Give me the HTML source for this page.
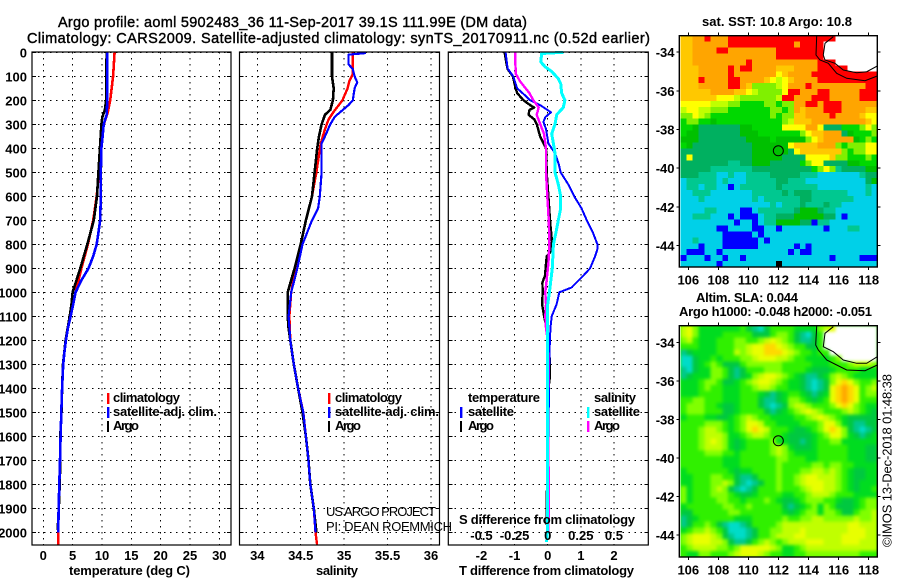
<!DOCTYPE html>
<html lang="en">
<head>
<meta charset="utf-8">
<title>Argo profile aoml 5902483_36</title>
<style>
html,body{margin:0;padding:0;background:#fff;}
#chart{display:block;width:900px;height:580px;}
text{font-family:"Liberation Sans",sans-serif;fill:#000;}
.b{font-size:13px;font-weight:700;}
.t{font-size:14.5px;font-weight:400;stroke:#000;stroke-width:.4px;}
.n{font-size:13px;font-weight:400;}
</style>
</head>
<body>
<svg id="chart" xmlns="http://www.w3.org/2000/svg" width="900" height="580" viewBox="0 0 900 580">
<defs>
<filter id="slaSmooth" x="-5%" y="-5%" width="110%" height="110%" color-interpolation-filters="sRGB"><feGaussianBlur stdDeviation="1.7"/></filter>
<clipPath id="slaClip"><rect x="680.5" y="325.7" width="196.8" height="231.3"/></clipPath>
</defs>
<rect x="0" y="0" width="900" height="580" fill="#fff"/>
<text class="t" x="58" y="27" textLength="469" lengthAdjust="spacing">Argo profile: aoml 5902483_36 11-Sep-2017 39.1S 111.99E (DM data)</text>
<text class="t" x="27" y="43" textLength="623" lengthAdjust="spacing">Climatology: CARS2009. Satellite-adjusted climatology: synTS_20170911.nc (0.52d earlier)</text>
<g id="p1"></g>
<g id="p2"></g>
<g id="p3"></g>
<g id="m1"></g>
<g id="m2"></g>

<text class="b" x="69" y="575" textLength="121" lengthAdjust="spacing">temperature (deg C)</text>
<text class="b" x="316" y="575" textLength="42" lengthAdjust="spacing">salinity</text>
<text class="b" x="459" y="575" textLength="175" lengthAdjust="spacing">T difference from climatology</text>
<text class="b" x="459" y="524" textLength="176" lengthAdjust="spacing">S difference from climatology</text>

<g>
<rect x="107" y="393" width="2.4" height="11" fill="#f00"/>
<rect x="107" y="407" width="2.4" height="11" fill="#00f"/>
<rect x="107" y="421" width="2" height="11" fill="#000"/>
<text class="b" x="113" y="402" textLength="67" lengthAdjust="spacing">climatology</text>
<text class="b" x="113" y="416" textLength="104" lengthAdjust="spacing">satellite-adj. clim.</text>
<text class="b" x="113" y="430" textLength="26" lengthAdjust="spacing">Argo</text>
</g>
<g>
<rect x="328" y="393" width="2.4" height="11" fill="#f00"/>
<rect x="328" y="407" width="2.4" height="11" fill="#00f"/>
<rect x="328" y="421" width="2" height="11" fill="#000"/>
<text class="b" x="335" y="402" textLength="67" lengthAdjust="spacing">climatology</text>
<text class="b" x="335" y="416" textLength="104" lengthAdjust="spacing">satellite-adj. clim.</text>
<text class="b" x="335" y="430" textLength="26" lengthAdjust="spacing">Argo</text>
</g>
<text class="n" x="326" y="516" textLength="110" lengthAdjust="spacing">US ARGO PROJECT</text>
<text class="n" x="326" y="531" textLength="126" lengthAdjust="spacing">PI: DEAN ROEMMICH</text>

<g>
<text class="b" x="468" y="402" textLength="72" lengthAdjust="spacing">temperature</text>
<text class="b" x="594" y="402" textLength="42" lengthAdjust="spacing">salinity</text>
<rect x="460" y="407" width="2.4" height="11" fill="#00f"/>
<rect x="460" y="421" width="2" height="11" fill="#000"/>
<rect x="587" y="407" width="2.4" height="11" fill="#0ff"/>
<rect x="587" y="421" width="2.4" height="11" fill="#f0f"/>
<text class="b" x="468" y="416" textLength="46" lengthAdjust="spacing">satellite</text>
<text class="b" x="468" y="430" textLength="26" lengthAdjust="spacing">Argo</text>
<text class="b" x="594" y="416" textLength="46" lengthAdjust="spacing">satellite</text>
<text class="b" x="594" y="430" textLength="26" lengthAdjust="spacing">Argo</text>
</g>

<text class="b" x="702" y="26" textLength="150" lengthAdjust="spacing">sat. SST: 10.8 Argo: 10.8</text>
<text class="b" x="696" y="302" textLength="102" lengthAdjust="spacing">Altim. SLA: 0.044</text>
<text class="b" x="679" y="316" textLength="193" lengthAdjust="spacing">Argo h1000: -0.048 h2000: -0.051</text>
<text class="n" transform="translate(891.5,547) rotate(-90)" x="0" y="0" textLength="173" lengthAdjust="spacing">©IMOS 13-Dec-2018 01:48:38</text>
</svg>

<script>
// ---------- profile data ----------
const depthTicks = [0,100,200,300,400,500,600,700,800,900,1000,1100,1200,1300,1400,1500,1600,1700,1800,1900,2000];
const tempTicks = [0,5,10,15,20,25,30];
const salTicks = [34,34.5,35,35.5,36];
const salTickLabels = ['34','34.5','35','35.5','36'];
const tDiffTicks = [-2,-1,0,1,2];
const sDiffTicks = [-0.5,-0.25,0,0.25,0.5];
const sDiffTickLabels = ['-0.5','-0.25','0','0.25','0.5'];

const tempClimDepth = [0,100,200,250,300,400,500,600,700,800,900,1000,1050,1100,1150,1200,1250,1300,1400,1500,1600,1700,1800,1900,2000,2055];
const tempClimVal = [12.16,11.9,11.4,11,10.3,9.9,9.5,9.1,8.5,7.6,6.5,5.5,5.1,4.65,4.2,3.85,3.6,3.4,3.2,3.07,2.95,2.85,2.73,2.6,2.55,2.55];
const tempSatDepth = [0,100,200,260,300,350,400,500,600,700,800,850,900,950,1000,1050,1100,1150,1200,1250,1300,1400,1500,1600,1700,1800,1900,2000];
const tempSatVal = [10.9,10.9,10.9,10.8,10.3,10.1,9.9,9.8,9.8,9.7,9.1,8.5,7.7,6.5,5.5,5.1,4.65,4.2,3.85,3.6,3.4,3.2,3.07,2.95,2.85,2.73,2.6,2.55];
const tempArgoDepth = [0,110,200,240,270,300,400,500,600,700,800,900,1000,1050,1100,1200,1300,1400,1500,1600,1700,1800,1900,1990];
const tempArgoVal = [10.8,10.7,10.7,10.5,10.05,9.9,9.65,9.4,9.15,8.6,7.5,6.3,5.0,4.8,4.5,3.8,3.35,3.2,3.1,2.9,2.9,2.8,2.65,2.45];

const salClimDepth = [0,50,90,120,150,200,250,280,320,380,500,600,700,800,900,1000,1100,1200,1300,1400,1500,1600,1700,1800,1900,2000,2055];
const salClimVal = [35.1,35.1,35.1,35.06,35.04,34.98,34.875,34.82,34.78,34.73,34.68,34.63,34.56,34.5,34.44,34.39,34.37,34.38,34.42,34.47,34.53,34.56,34.59,34.61,34.65,34.67,34.69];
const salSatDepth = [3,10,50,70,100,125,150,200,220,260,270,300,350,380,400,500,600,650,700,800,900,1000,1100,1200,1300,1400,1500,1600,1700,1800,1900,2000];
const salSatVal = [35.25,35.05,35.05,35.1,35.12,35.15,35.12,35.1,35.05,34.92,34.89,34.84,34.78,34.74,34.74,34.74,34.72,34.7,34.63,34.52,34.46,34.39,34.36,34.38,34.42,34.47,34.53,34.56,34.59,34.61,34.65,34.67];
const salArgoDepth = [0,100,150,200,240,260,300,350,400,500,600,700,800,900,1000,1100,1150,1200,1300,1400,1500,1600,1700,1800,1900,2000];
const salArgoVal = [34.86,34.86,34.88,34.87,34.84,34.78,34.74,34.71,34.69,34.66,34.63,34.56,34.5,34.43,34.35,34.35,34.36,34.38,34.42,34.47,34.52,34.56,34.59,34.61,34.65,34.68];

const dTempSatDepth = [0,67,100,150,180,200,220,250,270,290,320,380,420,470,500,550,600,650,700,750,800,820,850,900,930,980,1000,1050,1100,1150,1200,1250,1500,2000];
const dTempSatVal = [-1.27,-1.21,-1.04,-0.92,-0.68,-0.53,-0.23,0.1,-0.07,-0.13,-0.05,0.02,0.22,0.34,0.39,0.62,0.8,1.02,1.18,1.36,1.5,1.5,1.43,1.28,1.08,0.72,0.35,0.27,0.12,0.08,0.07,0.05,0.03,0.02];
const dTempArgoDepth = [0,50,70,100,150,170,200,220,230,240,260,280,300,350,400,500,600,700,790,830,850,880,930,960,1000,1050,1100,1150,1200,1300,1350,1400,1900,1950,2000];
const dTempArgoVal = [-1.3,-1.24,-1.21,-1.05,-0.97,-0.92,-0.73,-0.53,-0.41,-0.55,-0.58,-0.4,-0.33,-0.23,-0.05,-0.03,0.02,0.07,0.13,0.09,-0.03,-0.05,-0.08,-0.16,-0.15,-0.17,-0.11,-0.03,0.02,0.07,0.07,0.02,-0.03,-0.03,-0.01];
const dSalArgoDepth = [0,50,90,120,170,200,230,260,290,340,400,500,600,700,800,880,950,1000,1050,1100,1150,1200,1300,1500,1700,1800,2000];
const dSalArgoVal = [-0.246,-0.244,-0.24,-0.21,-0.138,-0.108,-0.068,-0.083,-0.063,-0.028,-0.013,-0.013,-0.003,0.008,0.013,0.005,-0.008,-0.018,-0.013,-0.018,-0.013,0,0.005,0,0.005,0.01,0.005];
const dSalSatDepth = [0,5,40,60,80,110,130,170,200,230,260,300,340,380,420,500,550,600,650,700,750,800,900,1000,1050,1100,1200,1500,2000,2040];
const dSalSatVal = [0.118,-0.045,-0.053,-0.02,0.03,0.08,0.098,0.106,0.13,0.118,0.068,0.055,0.03,0.043,0.055,0.055,0.08,0.098,0.098,0.08,0.063,0.043,0.035,0.013,0,-0.002,-0.002,-0.002,-0.002,-0.008];

// ---------- map data ----------
const lonTicks = [106,108,110,112,114,116,118];
const latTicks = [-34,-36,-38,-40,-42,-44];
const argoLon = 111.99;
const argoLat = -39.1;
const sstColors = {r:'#ff0000',o:'#ffa500',y:'#ffc800',Y:'#ffff00',l:'#c0ff00',L:'#80f000',g:'#00d800',G:'#00c000',t:'#00b060',T:'#00c890',c:'#00d0e8',b:'#0000ff',W:'#ffffff',k:'#000000'};
const slaColors = {n:'#30f000',g:'#00dc20',G:'#00c840',t:'#00c88c',T:'#00dcc8',L:'#80ff00',l:'#c0ff00',Y:'#e8ff00',y:'#ffd800',o:'#ffa800',W:'#ffffff'};
const sstRows = [
"yyoorooorrrrrrrrrrrrrrrrrrWWWWWWW",
"yyoooooorrrrrrrrrrrorrrrWWWWWWWWW",
"yyoooorroooooooorrrrrrrrWWWWWWWWW",
"yyoooooooooooooorrrrrrrrWWWWWWWWW",
"yyooooooooorooooooooooorrrWWWWWWW",
"yyyooooororrooooyyyoooorrrrrWWWWW",
"yyyooooorooooooo Yyoooorrrrrrrrrrr".replace(' ',''),
"yyyroooorrooooyYlYyoooorrrrrrrrrr",
"yyyooooorroyLLLLlYooorooooooooorr",
"yyyyyooooyyYlLLLLYrrooorrooooorrr",
"yyyyyyYYYlLLLLLLlrrooorrrooooorrr",
"YYYYYlllLLggggLLgLLoorrorrrooooooo".slice(0,33),
"lYYllLLLgggggggLLgLoyooorrrooooyy",
"LLYlLggggggggggLgLLyyoooorooooyYY",
"gLLggGgggggggggggLlyyyoooooooooyY",
"ggGtttttttGGgggggYYYYooYtttgggLYL",
"gGGtttttttGGGgggggggLYyyoootGgggL",
"GGGttttttttGGGGgGGGGGLYyoooooGgLg",
"gGttttttttttGGGGGGYyyyyoooLgLLLYY",
"ttttttttttttGGGGGGtYyyyyyyyLgLLYY",
"tYttttttttttGGGGGttttYYYYyLLgggLg",
"ttttttttTTttGGGtttttgLYYttttGGggg",
"tttttTTTTTTTttttttttttgLYLTttttGG",
"tttTTTccTccTTTTtttttTTTcccccccTtt",
"cTTTTTcTcccTTTTTttTTTcccccccccctG",
"cTTcTTccbcTTTTTTtTTTTTTccccccccTc",
"ccTTTcccccccTTTTTtTtttTTTTTTcccTc",
"cccTccccccccTcTTTTTTttTTTTTTTcccc",
"cccccccccccccccTcTTTtTTTtTTcccccc",
"ccccTTccccbbcTTTTTTtGGGtTTccccccc",
"ccTTTcccbcbbbcTTtttGGGGGttcbccccc",
"cccccccccbccbcTTGGGGttbTTcccccccc",
"ccccccbbccccbbccbcccccccbcccTTccc",
"cccccccbbbbbcbccccccccccccccccccc",
"ccTccccbbbbbbcbcccccccccccccccccc",
"cccbcccbbbbbbccccccbcbccccccccccc",
"cbbbccbcccccccccccbcbbccccccccccc",
"bcccbccbccbccccccccccccccbccccbbb",
"ccccccbcccccccccKcccccccccccccccc".replace('K','k')
];
const slaRows = [
"lYLgggggggnGtTGnnnnggggLlYWWWWWWW",
"lYLggggnnnnnGGGnLLnGtTGnWWWWWWWWW",
"LlngggnnnLLnnLlYlLnGttGnWWWWWWWWW",
"nnngggnnnLLlYYyyYlLnnGGnWWWWWWWWW",
"tGggggnnnlLlYYyyyYlLnngnnWWWWWWWW",
"TTGggngnnnLLlYYYllLnnggggnLWWWWWW",
"TTGgnLnGGGnLLLLLLnnnnngggnnnLlllL",
"tTGggLLnGtGnnnLLLnnnngGGGgnnnnggg",
"tGgggLLnGtGgLlYYlLngGttGgLlLngggg",
"gggnLLnGGgnLlYYlLnggGtTtGLYyYLnnL",
"gggnLnngggnnLllLnnggGtTtGYyoyYnLl",
"gggnnnngggnnngGtGgnngGtGgYyoyYnLL",
"nnLLnnngggnnnGttGgLLngGgnYyoyYnnn",
"nLLLnngGGgnnnGtTtGLllLnnnLYyYLngg",
"nLLLnnnGGgnnnnGtGgnLlYlLnnnLlLngG",
"gnnnggGGgnLlLnnggggnnLlYlLngGGGGG",
"nnnnLLLngnLYYlnnggggnnnLYYLgGttGG",
"nnnLllLngnLYyYlnnngGGgnLYyYLGtTtG",
"nnnLlllLggnLllLnngGGGGgnLYYLgGtGg",
"nnnLlYlLgGgnnnnLggGGtGgnnLLgggggg",
"nnnLlllLgGgnnnnLlLgGGGgnnnnngggGG",
"nnnnLLLnngnnnnnLlLnggggnnnnngggGG",
"nnnnnnngggnnnnnnLLnnnggnnnnngggGG",
"nnnnnnngggnnnnnnLnnnnnLLnLLnngggg",
"gnnnnnnngGggnnnnLnnnLLllLlLngGGgg",
"ggnnnLLnnGttGnnnLnnLlYYlllLngGGgg",
"ggnnnLLlLGtTtGnnLnnLlYYYllLngGggg",
"LgnnnLlLGtTtGnnnLnnnLlYYllLngGggn",
"LgnnnLLLngGGgnnnnggnnLlllLnnngggg",
"LgnnnnLLnngnnnLngGGgnLLLnngGGgnLL",
"gnnnnnnLLnnLnnnnnGtGgnLgLnGGGgnLL",
"GGnnnnnnLLnnnnnnngGgnLLgLLnGGnLLl",
"tGgnnnnnngggnnnnnLnnLLllLLLLLlLLl",
"tGnnLnGtTTtGnnnnLlllllllllllYYlll",
"gnLLlLnGTTTtGnnLLlllYlllllllYYYll",
"LlYYYlLGtTTtGnnLlllYYllllllYYYYll",
"LlYYYllLGttGnLlLnLlllYYYlllYYYlll",
"nLllllLLnLYYYYYlLggnLllllllllllll",
"nggLLnnnLlYYYlLnnggnnLLLLLLLLLnnn"
];

// ---------- geometry ----------
const SVGNS = 'http://www.w3.org/2000/svg';
const plotTop = 52, plotBottom = 545;
const depthY = d => 52.3 + d * 0.24;
const tempX = t => 43.3 + t * 5.867;
const salX = s => 257.3 + (s - 34) * 86.85;
const tDiffX = t => 547.7 + t * 33.13;
const sDiffX = s => 547.7 + s * 4 * 33.13;
const lonX = lon => 688.3 + (lon - 106) * 15.03;
const lat1Y = lat => 52.2 + (-34 - lat) * 19.33;
const lat2Y = lat => 342.5 + (-34 - lat) * 19.27;

function mk(parent, tag) {
  const el = document.createElementNS(SVGNS, tag);
  
  parent.appendChild(el);
  return el;
}
function seg(parent, x1, y1, x2, y2, name, dotted) {
  const el = mk(parent, 'line');
  
  el.setAttribute('x1', x1); el.setAttribute('y1', y1);
  el.setAttribute('x2', x2); el.setAttribute('y2', y2);
  el.setAttribute('stroke', '#000');
  el.setAttribute('stroke-width', 1);
  if (dotted) el.setAttribute('stroke-dasharray', '1.5 4.5');
  el.setAttribute('shape-rendering', 'crispEdges');
  return el;
}
function label(parent, x, y, str, anchor, name) {
  const el = mk(parent, 'text');
  
  el.setAttribute('x', x); el.setAttribute('y', y);
  el.setAttribute('text-anchor', anchor);
  el.setAttribute('class', 'b');
  el.textContent = str;
  return el;
}
function series(parent, depths, vals, xf, color, w, name) {
  const el = mk(parent, 'polyline');
  
  el.setAttribute('points', depths.map((d, i) => xf(vals[i]).toFixed(1) + ',' + depthY(d).toFixed(1)).join(' '));
  el.setAttribute('fill', 'none');
  el.setAttribute('stroke', color);
  el.setAttribute('stroke-width', w);
  el.setAttribute('shape-rendering', 'crispEdges');
  el.setAttribute('stroke-linejoin', 'round');
  return el;
}
function panelFrame(parent, left, right, xTicks, xf, showDepthLabels) {
  const bg = mk(parent, 'rect');
  
  bg.setAttribute('x', left); bg.setAttribute('y', plotTop);
  bg.setAttribute('width', right - left); bg.setAttribute('height', plotBottom - plotTop);
  bg.setAttribute('fill', '#fff');
  depthTicks.forEach(d => {
    seg(parent, left, depthY(d), right, depthY(d), 'depth-gridline', true);
    seg(parent, left, depthY(d), left + 4, depthY(d), 'depth-tick', false);
    seg(parent, right - 4, depthY(d), right, depthY(d), 'depth-tick', false);
    if (showDepthLabels) label(parent, 27, depthY(d) + 5, String(d), 'end', 'depth-tick-label');
  });
  xTicks.forEach(v => {
    seg(parent, xf(v), plotTop, xf(v), plotBottom, 'x-gridline', true);
  });
}
function panelBorder(parent, left, right) {
  const el = mk(parent, 'rect');
  
  el.setAttribute('x', left); el.setAttribute('y', plotTop);
  el.setAttribute('width', right - left); el.setAttribute('height', plotBottom - plotTop);
  el.setAttribute('fill', 'none');
  el.setAttribute('stroke', '#000');
  el.setAttribute('stroke-width', 1.2);
}

// ---------- panels ----------
const p1 = document.getElementById('p1');
panelFrame(p1, 32, 231, tempTicks, tempX, true);
series(p1, tempClimDepth, tempClimVal, tempX, '#f00', 2.6, 'temperature-climatology-line');
series(p1, tempArgoDepth, tempArgoVal, tempX, '#000', 2.6, 'temperature-argo-line');
series(p1, tempSatDepth, tempSatVal, tempX, '#00f', 2.6, 'temperature-satellite-line');
panelBorder(p1, 32, 231);
tempTicks.forEach(v => label(p1, tempX(v), 560, String(v), 'middle', 'temperature-tick-label'));

const p2 = document.getElementById('p2');
panelFrame(p2, 239.5, 439.5, salTicks, salX, false);
series(p2, salClimDepth, salClimVal, salX, '#f00', 2.4, 'salinity-climatology-line');
series(p2, salArgoDepth, salArgoVal, salX, '#000', 2.6, 'salinity-argo-line');
series(p2, salSatDepth, salSatVal, salX, '#00f', 2.2, 'salinity-satellite-line');
panelBorder(p2, 239.5, 439.5);
salTicks.forEach((v, i) => label(p2, salX(v), 560, salTickLabels[i], 'middle', 'salinity-tick-label'));

const p3 = document.getElementById('p3');
panelFrame(p3, 448.3, 648.3, tDiffTicks, tDiffX, false);
series(p3, dTempArgoDepth, dTempArgoVal, tDiffX, '#000', 2.4, 'temperature-argo-difference-line');
series(p3, dTempSatDepth, dTempSatVal, tDiffX, '#00f', 2, 'temperature-satellite-difference-line');
series(p3, dSalArgoDepth, dSalArgoVal, sDiffX, '#f0f', 2.4, 'salinity-argo-difference-line');
series(p3, dSalSatDepth, dSalSatVal, sDiffX, '#0ff', 3, 'salinity-satellite-difference-line');
panelBorder(p3, 448.3, 648.3);
tDiffTicks.forEach(v => label(p3, tDiffX(v), 560, String(v), 'middle', 't-difference-tick-label'));
sDiffTicks.forEach((v, i) => label(p3, sDiffX(v), 540, sDiffTickLabels[i], 'middle', 's-difference-tick-label'));

// ---------- maps ----------
function drawMap(parent, rows, colors, top, bottom, latY, outer, inner, smooth) {
  const frameLeft = 679.3, left = 680.5, right = 877.3;
  const nCols = 33;
  const cw = (right - left) / nCols;
  const ch = (bottom - top) / rows.length;
  let cellHost = parent;
  if (smooth) {
    const clip = mk(parent, 'g');
    
    clip.setAttribute('clip-path', 'url(#slaClip)');
    const base = mk(clip, 'rect');
    
    base.setAttribute('x', left); base.setAttribute('y', top);
    base.setAttribute('width', right - left); base.setAttribute('height', bottom - top);
    base.setAttribute('fill', colors.n);
    cellHost = mk(clip, 'g');
    
    cellHost.setAttribute('filter', 'url(#slaSmooth)');
  }
  rows.forEach((row, r) => {
    for (let c = 0; c < nCols; c++) {
      const cell = mk(cellHost, 'rect');
      
      cell.setAttribute('x', (left + c * cw).toFixed(2));
      cell.setAttribute('y', (top + r * ch).toFixed(2));
      cell.setAttribute('width', (cw + 0.3).toFixed(2));
      cell.setAttribute('height', (ch + 0.3).toFixed(2));
      cell.setAttribute('fill', colors[row[c] || row[row.length - 1]]);
      cell.setAttribute('shape-rendering', 'crispEdges');
    }
  });
  [outer, inner].forEach(pts => {
    const coast = mk(parent, 'polyline');
    
    coast.setAttribute('points', pts);
    coast.setAttribute('fill', 'none');
    coast.setAttribute('stroke', '#000');
    coast.setAttribute('stroke-width', 1);
  });
  const fr = mk(parent, 'rect');
  
  fr.setAttribute('x', frameLeft); fr.setAttribute('y', top);
  fr.setAttribute('width', right - frameLeft); fr.setAttribute('height', bottom - top);
  fr.setAttribute('fill', 'none');
  fr.setAttribute('stroke', '#000');
  fr.setAttribute('stroke-width', 1.4);
  lonTicks.forEach(v => {
    seg(parent, lonX(v), top - 3, lonX(v), top, 'longitude-tick', false);
    seg(parent, lonX(v), bottom, lonX(v), bottom + 3, 'longitude-tick', false);
    label(parent, lonX(v), bottom + 17.5, String(v), 'middle', 'longitude-tick-label');
  });
  latTicks.forEach(v => {
    seg(parent, frameLeft - 3, latY(v), frameLeft, latY(v), 'latitude-tick', false);
    seg(parent, right, latY(v), right + 3, latY(v), 'latitude-tick', false);
    label(parent, 674.5, latY(v) + 5, String(v), 'end', 'latitude-tick-label');
  });
  const marker = mk(parent, 'circle');
  
  marker.setAttribute('cx', lonX(argoLon));
  marker.setAttribute('cy', latY(argoLat));
  marker.setAttribute('r', 5);
  marker.setAttribute('fill', 'none');
  marker.setAttribute('stroke', '#000');
  marker.setAttribute('stroke-width', 1);
}
function toPts(list, offY) {
  return list.map(p => (670 + p[0] / 3).toFixed(1) + ',' + (offY + p[1] / 3).toFixed(1)).join(' ');
}
drawMap(document.getElementById('m1'), sstRows, sstColors, 35.7, 267, lat1Y,
  toPts([[440,107],[438,165],[450,180],[475,190],[500,220],[530,235],[585,242],[622,228]], 0),
  toPts([[490,110],[465,130],[460,165],[465,180],[495,190],[520,210],[560,218],[590,215],[622,198]], 0),
  false);
drawMap(document.getElementById('m2'), slaRows, slaColors, 325.7, 557, lat2Y,
  toPts([[440,122],[437,180],[445,195],[470,225],[500,240],[530,255],[585,257],[622,240]], 285),
  toPts([[490,125],[465,145],[460,185],[490,200],[520,225],[560,235],[590,235],[622,215]], 285),
  true);
</script>
</body>
</html>
